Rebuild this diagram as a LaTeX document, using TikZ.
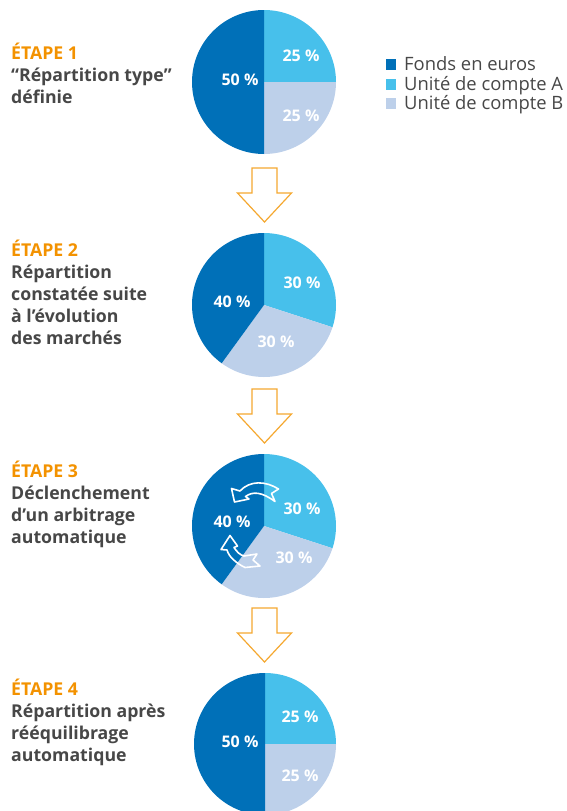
\documentclass[tikz,border=0pt]{standalone}
\usepackage{fontspec}
\setmainfont{Open Sans}
\definecolor{dblue}{HTML}{0070B8}
\definecolor{lblue}{HTML}{47C0EB}
\definecolor{pblue}{HTML}{BDD0EA}
\definecolor{orng}{HTML}{F39200}
\definecolor{arrorng}{HTML}{F5A830}
\definecolor{txtgray}{HTML}{474747}
\tikzset{
  steptext/.style={anchor=base west, align=left, inner sep=0pt, font=\fontsize{17.7}{22}\selectfont\bfseries, text=txtgray},
  pielabel/.style={text=white, font=\fontsize{16}{18}\selectfont\bfseries, inner sep=0pt},
  legtext/.style={anchor=base west, inner sep=0pt, font=\fontsize{18.4}{18}\selectfont, text=txtgray},
  blockarrow/.style={draw=arrorng, line width=1.2pt, fill=white, line join=miter},
  warrow/.style={draw=white, line width=1.6pt, line join=round}
}
\newcommand{\pieAt}[4]{% center, angle A->B, angle B->dark, radius
  \fill[lblue] (#1) -- ++(-90:#4) arc[start angle=-90, end angle=#2, radius=#4] -- cycle;
  \fill[pblue] (#1) -- ++(#2:#4) arc[start angle=#2, end angle=#3, radius=#4] -- cycle;
  \fill[dblue] (#1) -- ++(#3:#4) arc[start angle=#3, end angle=270, radius=#4] -- cycle;
}
\newcommand{\downArrow}[1]{% top center of shaft
  \draw[blockarrow] ($(#1)+(-12.5,0)$) -- ++(25,0) -- ++(0,25) -- ++(14.5,0) -- ($(#1)+(0,54)$) -- ($(#1)+(-27,25)$) -- ++(14.5,0) -- cycle;
}
\usetikzlibrary{calc}
\begin{document}
\begin{tikzpicture}[x=1pt,y=-1pt]
\useasboundingbox (0,0) rectangle (566,811);
\clip (0,0) rectangle (566,811);

% pie centers
\coordinate (p1) at (264,82);
\coordinate (p2) at (264,305);
\coordinate (p3) at (264,526);
\coordinate (p4) at (265,744);

\pieAt{p1}{0}{90}{72}
\pieAt{p2}{18}{126}{72}
\pieAt{p3}{18}{126}{72}
\pieAt{p4}{0}{90}{71}

% pie labels
\node[pielabel] (l1a) at (240,80) {50 \%};
\node[pielabel] (l1b) at (301,56) {25 \%};
\node[pielabel] (l1c) at (301,116) {25 \%};
\node[pielabel] (l2a) at (232,302) {40 \%};
\node[pielabel] (l2b) at (302,283) {30 \%};
\node[pielabel] (l2c) at (276,342) {30 \%};
\node[pielabel] (l3a) at (232,522) {40 \%};
\node[pielabel] (l3b) at (302,509) {30 \%};
\node[pielabel] (l3c) at (294,558) {30 \%};
\node[pielabel] (l4a) at (240,742) {50 \%};
\node[pielabel] (l4b) at (300,717) {25 \%};
\node[pielabel] (l4c) at (300,776) {25 \%};

% rebalancing arrows
\draw[warrow] (278.5,489) .. controls (266,481) and (250,480) .. (240,491)
  -- (231.5,488.5) -- (234.5,502) -- (249,499) -- (245.5,496.5)
  .. controls (253,491) and (262,492) .. (275,501.5) -- (271.5,493.5) -- cycle;
\draw[warrow] (230,535.5) -- (237.5,546) -- (234,547.5)
  .. controls (237,552) and (240,555) .. (244,556) -- (257,554) -- (253,560) -- (260,566) -- (245,567.5)
  .. controls (236,563) and (229,557) .. (227,550) -- (221,549.5) -- cycle;

% down arrows
\coordinate (a1) at (264.5,168);
\coordinate (a2) at (264.5,389);
\coordinate (a3) at (264.5,608);
\downArrow{a1}
\downArrow{a2}
\downArrow{a3}

% step texts (anchor = baseline of last line)
\node[steptext] (s1) at (11,103) {\textcolor{orng}{ÉTAPE 1}\\“Répartition type”\\définie};
\node[steptext] (s2) at (11,344) {\textcolor{orng}{ÉTAPE 2}\\Répartition\\constatée suite\\à l’évolution\\des marchés};
\node[steptext] (s3) at (11,543) {\textcolor{orng}{ÉTAPE 3}\\Déclenchement\\d’un arbitrage\\automatique};
\node[steptext] (s4) at (11,761) {\textcolor{orng}{ÉTAPE 4}\\Répartition après\\rééquilibrage\\automatique};

% legend
\fill[dblue] (386,59) rectangle (396,70);
\fill[lblue] (386,79) rectangle (396,90);
\fill[pblue] (386,98) rectangle (396,109);
\node[legtext] (g1) at (404,70) {Fonds en euros};
\node[legtext] (g2) at (404,90) {Unité de compte A};
\node[legtext] (g3) at (404,109) {Unité de compte B};
\end{tikzpicture}
\end{document}
